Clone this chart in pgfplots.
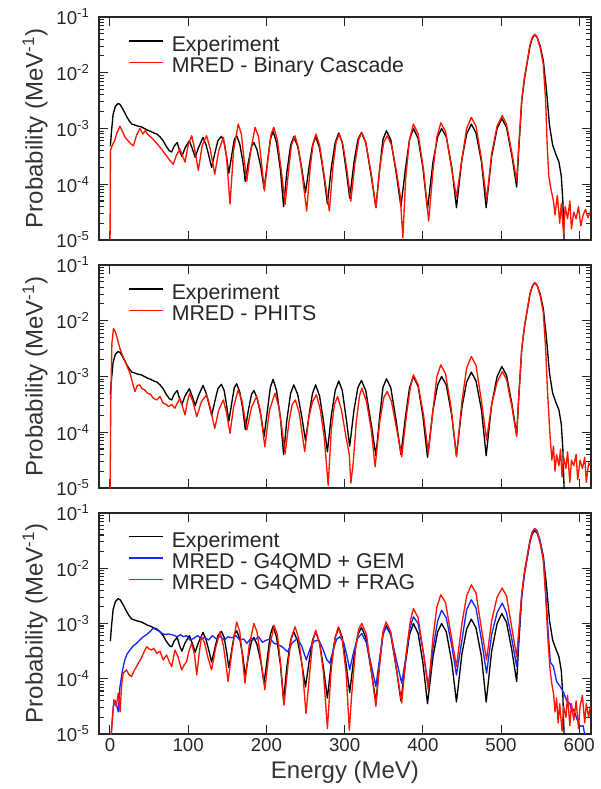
\documentclass[border=0pt]{standalone}
\usepackage{fontspec}
\setmainfont{Liberation Sans}
\usepackage{pgfplots}
\pgfplotsset{compat=1.18}
\usepackage{pgfplotstable}
\definecolor{myred}{RGB}{255,20,0}
\definecolor{myblue}{RGB}{20,40,255}

\pgfplotstableread{
E P
0.5 4.79e-4
2 8.91e-4
4 1.78e-3
7 2.51e-3
10.5 2.82e-3
13 2.69e-3
16 2.29e-3
19 1.91e-3
22 1.58e-3
25 1.35e-3
28 1.20e-3
32 1.15e-3
36 1.10e-3
40 1.07e-3
44 1.00e-3
48 9.33e-4
52 8.91e-4
56 8.32e-4
60 7.94e-4
64 7.08e-4
68 6.03e-4
72 4.79e-4
76 3.98e-4
79 3.80e-4
82 4.79e-4
86 5.62e-4
89 3.98e-4
92 3.16e-4
96 4.47e-4
101.5 6.03e-4
105 4.47e-4
109 3.02e-4
113 4.47e-4
119 6.92e-4
123 5.01e-4
127 3.02e-4
130 2.00e-4
134 3.55e-4
138 6.03e-4
142.5 7.24e-4
146 5.62e-4
149 3.16e-4
152 1.58e-4
156 3.55e-4
159 6.31e-4
162 7.41e-4
166 5.25e-4
170 2.51e-4
173 1.12e-4
177 2.51e-4
181 4.79e-4
184 5.62e-4
188 4.17e-4
193 2.00e-4
197 8.32e-5
201 2.24e-4
205 6.31e-4
208.5 8.91e-4
213 5.62e-4
218 1.78e-4
222 3.98e-5
226 1.58e-4
231 5.01e-4
235 7.08e-4
240 4.79e-4
245 2.00e-4
250 7.08e-5
255 2.24e-4
259 5.01e-4
263 7.08e-4
268 4.47e-4
273 1.58e-4
278 4.47e-5
283 2.00e-4
288 5.62e-4
292.5 8.32e-4
297 5.62e-4
302 1.78e-4
306.5 5.62e-5
312 2.51e-4
317 6.31e-4
321.5 8.51e-4
327 5.62e-4
334 1.41e-4
340 3.80e-5
345 2.00e-4
349 6.31e-4
353.5 9.12e-4
359 6.31e-4
366 1.58e-4
372 3.98e-5
378 2.00e-4
383 6.31e-4
388 1.00e-3
394 6.61e-4
400 2.00e-4
406 3.55e-5
413 2.51e-4
419 7.08e-4
424 1.00e-3
430 7.08e-4
437 2.00e-4
443 3.80e-5
450 2.82e-4
456 7.94e-4
462 1.20e-3
468 8.32e-4
475 2.51e-4
481 3.80e-5
488 3.16e-4
495 1.00e-3
501 1.51e-3
507 1.05e-3
514 3.16e-4
520 8.91e-5
522.5 3.98e-4
526.5 3.16e-3
530 7.94e-3
533 1.41e-2
537 3.02e-2
540 4.17e-2
543 4.79e-2
546 4.37e-2
550 3.02e-2
554 1.66e-2
558 5.01e-3
562 1.12e-3
566 5.01e-4
570 3.47e-4
574 2.51e-4
577 1.41e-4
579 5.01e-5
581 6.31e-6
}\expdata

\pgfplotstableread{
E P
0 3.16e-6
0.6 3.98e-4
3 5.01e-4
6 6.03e-4
9 8.32e-4
12.8 1.10e-3
16 8.91e-4
19 7.08e-4
23 6.03e-4
27 5.25e-4
30 4.90e-4
34 7.59e-4
38.4 1.00e-3
42 7.94e-4
45 9.12e-4
48 7.94e-4
51 7.24e-4
55 6.46e-4
60 5.37e-4
66 4.27e-4
70 3.55e-4
73 3.16e-4
77 2.63e-4
81 2.29e-4
85 3.31e-4
89.5 4.27e-4
93 3.16e-4
96 2.51e-4
100 5.01e-4
104.5 7.41e-4
108 4.47e-4
113 1.78e-4
118 5.01e-4
123.5 7.41e-4
128 4.47e-4
134 1.51e-4
139 3.98e-4
145 6.92e-4
149 3.16e-4
153.5 4.37e-5
158 3.98e-4
164 1.20e-3
168 7.94e-4
171 3.16e-4
175 1.15e-4
180 3.98e-4
185.5 1.05e-3
190 7.08e-4
194 2.24e-4
197.5 7.59e-5
202 2.82e-4
206 7.94e-4
209.5 1.05e-3
214 6.31e-4
219 1.78e-4
224 4.37e-5
228 1.58e-4
232 5.01e-4
236.5 7.41e-4
241 4.47e-4
246 1.41e-4
251.5 3.31e-5
256 2.00e-4
260 5.62e-4
263.5 7.94e-4
268 5.01e-4
274 1.41e-4
280.5 3.31e-5
285 2.00e-4
289 5.62e-4
293 7.94e-4
298 5.01e-4
303 1.78e-4
308 5.01e-5
313 2.24e-4
318 6.31e-4
322 8.51e-4
327 5.62e-4
334 1.58e-4
340 3.80e-5
345 2.00e-4
350 5.62e-4
354.5 7.41e-4
360 5.01e-4
366 1.78e-4
371 6.31e-5
374.5 1.10e-5
378 1.26e-4
383 6.31e-4
388 1.20e-3
394 7.94e-4
401 1.78e-4
407.5 2.19e-5
413 1.78e-4
418 7.08e-4
423 1.26e-3
429 8.91e-4
436 2.24e-4
443 5.89e-5
450 2.82e-4
456 1.00e-3
462 1.58e-3
468 1.10e-3
475 2.82e-4
481.5 5.13e-5
488 3.55e-4
495 1.12e-3
501.5 1.70e-3
507 1.20e-3
514 3.55e-4
520 1.15e-4
522.5 4.47e-4
526.5 3.31e-3
530 8.32e-3
533 1.45e-2
537 3.16e-2
540 4.37e-2
543 4.90e-2
546 4.37e-2
550 2.82e-2
554 1.41e-2
557 3.16e-3
559 5.01e-4
561 1.41e-4
564 7.94e-5
567 5.01e-5
569 2.82e-5
572 6.31e-5
575 2.00e-5
577 4.47e-5
580 1.26e-5
582 3.98e-5
585 2.40e-5
588 5.01e-5
590 1.58e-5
593 3.16e-5
596 2.40e-5
599 3.98e-5
602 1.78e-5
605 2.82e-5
608 3.55e-5
611 2.51e-5
614 3.16e-5
}\redA

\pgfplotstableread{
E P
0 3.16e-6
1 3.16e-4
2.5 3.98e-3
4.5 7.24e-3
7 6.31e-3
10 4.47e-3
12.8 3.16e-3
16 2.40e-3
19 1.91e-3
22 1.51e-3
25.6 1.15e-3
29 7.59e-4
32 5.37e-4
35 6.92e-4
38 7.08e-4
41 6.03e-4
44.6 5.75e-4
48 5.01e-4
52 4.79e-4
55.4 4.07e-4
60 3.80e-4
64 4.37e-4
68 3.31e-4
72 3.16e-4
75 2.88e-4
79 3.16e-4
83 2.69e-4
86 3.31e-4
89.5 4.07e-4
93 2.82e-4
96 2.04e-4
99 3.55e-4
102 5.01e-4
106 3.55e-4
111 1.91e-4
117 3.55e-4
123.5 4.68e-4
128 2.82e-4
134 1.17e-4
139 2.51e-4
145 3.80e-4
149 2.24e-4
153.5 9.55e-5
158 2.82e-4
164 5.75e-4
169 3.55e-4
175 1.10e-4
181 2.82e-4
187.5 4.37e-4
192 2.51e-4
198 5.50e-5
204 2.51e-4
211 5.01e-4
216 2.82e-4
220 1.12e-4
224 4.17e-5
229 1.58e-4
233 3.16e-4
237 3.80e-4
242 2.24e-4
249 4.47e-5
254 1.78e-4
259 3.55e-4
264 4.68e-4
269 2.51e-4
274 7.94e-5
279 1.12e-5
283 1.12e-4
287 3.16e-4
291 4.37e-4
296 2.51e-4
302 7.94e-5
306 3.98e-5
308 1.23e-5
311 2.82e-5
315 1.58e-4
319 4.47e-4
322 6.17e-4
328 3.55e-4
334 1.12e-4
339 2.40e-5
345 1.58e-4
350 4.17e-4
354.5 5.37e-4
360 3.55e-4
366 1.26e-4
373 3.63e-5
379 2.00e-4
384 6.31e-4
388 1.07e-3
394 7.08e-4
401 2.00e-4
407 4.17e-5
413 2.51e-4
418 1.00e-3
423 1.62e-3
429 1.12e-3
436 2.82e-4
443 3.63e-5
450 3.55e-4
456 1.41e-3
462 2.29e-3
468 1.58e-3
475 3.55e-4
481.5 7.24e-5
488 3.16e-4
495 7.94e-4
501.5 1.23e-3
507 8.91e-4
514 2.82e-4
520 8.32e-5
522.5 3.98e-4
526.5 3.16e-3
530 7.94e-3
533 1.41e-2
537 3.02e-2
540 4.17e-2
543 4.79e-2
546 4.37e-2
550 2.82e-2
554 1.41e-2
557 3.16e-3
559.5 5.01e-4
562.7 8.32e-5
565 3.16e-5
567 5.62e-5
569 2.00e-5
571 3.98e-5
574 2.51e-5
576 5.01e-5
578 1.58e-5
580 3.55e-5
583 2.24e-5
585 4.47e-5
588 1.26e-5
590 3.16e-5
593 2.51e-5
596 3.98e-5
598 1.41e-5
601 3.16e-5
604 2.24e-5
607 3.55e-5
609 1.26e-5
612 2.82e-5
614 2.51e-5
}\redB

\pgfplotstableread{
E P
0 5.01e-6
2 1.17e-5
4.3 3.16e-5
7 3.98e-5
10.7 2.51e-5
12.8 7.24e-5
16 1.41e-4
19 2.19e-4
22 2.82e-4
25.6 3.31e-4
30 3.98e-4
34 4.37e-4
38 5.01e-4
42.6 5.75e-4
47 6.31e-4
51 7.08e-4
55 8.13e-4
58 7.94e-4
62 7.41e-4
66 6.76e-4
70 6.31e-4
75 6.46e-4
81 6.17e-4
86 5.75e-4
90 6.31e-4
94 5.75e-4
98 6.03e-4
102 5.01e-4
107 5.37e-4
112 6.03e-4
117 5.25e-4
121 5.62e-4
126 5.01e-4
131 6.03e-4
136 5.25e-4
141 5.89e-4
146 5.01e-4
151 5.75e-4
156 5.50e-4
161 6.03e-4
166 5.01e-4
171 5.25e-4
175 4.37e-4
180 5.37e-4
185 5.01e-4
190 5.75e-4
195 4.57e-4
200 5.01e-4
205 5.25e-4
210 4.37e-4
215 4.17e-4
220 3.80e-4
227 3.09e-4
233 4.47e-4
239.5 5.37e-4
245 3.98e-4
251 2.19e-4
256 3.55e-4
261 4.79e-4
267 5.01e-4
272 3.55e-4
277 2.24e-4
281 1.91e-4
286 3.55e-4
290 5.25e-4
294 5.75e-4
299 4.47e-4
304 2.24e-4
306.5 1.45e-4
311 2.82e-4
316 5.25e-4
322 6.61e-4
328 4.47e-4
334 1.78e-4
340 7.24e-5
345 2.51e-4
349 6.31e-4
353 8.71e-4
359 6.31e-4
366 2.24e-4
373 8.32e-5
379 2.82e-4
384 8.91e-4
388 1.32e-3
394 1.00e-3
401 2.82e-4
407 7.24e-5
413 3.55e-4
419 1.12e-3
424 1.74e-3
430 1.26e-3
437 3.98e-4
443 1.17e-4
450 5.01e-4
456 1.78e-3
462 2.69e-3
468 1.91e-3
475 5.01e-4
481.5 1.26e-4
488 6.31e-4
495 1.58e-3
501.5 2.34e-3
507 1.58e-3
514 5.01e-4
520 1.66e-4
522.5 5.01e-4
526.5 3.31e-3
530 8.32e-3
533 1.45e-2
537 3.16e-2
540 4.57e-2
543 5.25e-2
546 4.79e-2
550 3.16e-2
554 1.58e-2
557 3.98e-3
560 7.94e-4
563 2.00e-4
567 1.66e-4
571 8.91e-5
575.6 7.24e-5
580 5.62e-5
584 3.98e-5
588 3.55e-5
591 2.51e-5
593 2.82e-5
597 1.86e-5
601 1.38e-5
605 1.41e-5
608 7.94e-6
}\blueC

\pgfplotstableread{
E P
0 5.01e-6
2 1.17e-5
5 4.17e-5
8 3.16e-5
10.7 5.50e-5
13 2.51e-5
15 7.94e-5
17 1.26e-4
21 1.45e-4
24 1.20e-4
27.6 1.10e-4
31 1.41e-4
34 1.66e-4
37 2.00e-4
40 2.34e-4
44 3.16e-4
47 3.80e-4
50 3.47e-4
53 3.31e-4
56 3.55e-4
60 2.88e-4
64 3.16e-4
68 2.19e-4
72.5 2.69e-4
76 2.00e-4
79 1.66e-4
83 3.31e-4
87 2.51e-4
91.6 1.45e-4
95 1.78e-4
98 2.04e-4
101 3.16e-4
104.4 4.37e-4
108 2.82e-4
111 1.17e-4
114 2.82e-4
117 5.75e-4
121 4.47e-4
125 2.51e-4
130 1.45e-4
135 3.55e-4
140.7 7.08e-4
145 3.98e-4
148 2.00e-4
151 8.91e-5
156 3.16e-4
162 1.07e-3
166 7.08e-4
169 2.82e-4
172.6 8.32e-5
178 3.98e-4
184 1.00e-3
188 7.08e-4
193 2.24e-4
198 6.31e-5
204 3.55e-4
209.7 9.33e-4
214 6.31e-4
218 2.00e-4
222.5 3.31e-5
228 2.00e-4
232 5.62e-4
236.6 8.71e-4
241 5.62e-4
246 1.58e-4
250.6 2.34e-5
256 1.58e-4
259 4.47e-4
263 7.59e-4
268 4.47e-4
273 1.26e-4
278 1.26e-5
283 1.58e-4
288 5.62e-4
292 8.71e-4
297 5.01e-4
302 1.26e-4
306 1.17e-5
309 5.01e-5
314 3.55e-4
318 7.94e-4
322 1.00e-3
328 6.31e-4
334 1.41e-4
340 3.16e-5
345 2.00e-4
349 7.08e-4
353 1.07e-3
359 7.08e-4
366 1.58e-4
373 3.63e-5
379 3.16e-4
384 1.12e-3
388 1.86e-3
394 1.26e-3
401 2.82e-4
407 6.31e-5
413 5.62e-4
418 2.00e-3
423 3.31e-3
429 2.40e-3
436 6.31e-4
443 1.66e-4
450 1.00e-3
456 3.16e-3
462 5.01e-3
468 3.55e-3
475 7.94e-4
481.5 2.19e-4
488 1.12e-3
495 3.02e-3
501.5 4.37e-3
507 3.16e-3
514 7.94e-4
520 2.51e-4
522.5 7.08e-4
526.5 3.55e-3
530 8.91e-3
533 1.51e-2
537 3.16e-2
540 4.57e-2
543 5.13e-2
546 4.57e-2
550 2.82e-2
554 1.41e-2
557 3.16e-3
560 5.01e-4
562.7 1.45e-4
565 7.94e-5
567 5.50e-5
569 2.51e-5
571 4.47e-5
573 1.58e-5
575 3.55e-5
578 1.12e-5
580 3.16e-5
583 2.00e-5
585 5.01e-5
588 1.41e-5
590 3.55e-5
593 1.78e-5
596 3.98e-5
599 1.26e-5
601 3.16e-5
604 5.01e-5
607 1.58e-5
609 3.55e-5
612 2.00e-5
614 3.16e-5
}\redC

\pgfplotsset{
  panel/.style={
    scale only axis, width=369pt, anchor=south west,
    xmin=-14, xmax=615, ymin=1e-5, ymax=1e-1,
    xtick={0,100,200,300,400,500,600},
    ytick={1e-5,1e-4,1e-3,1e-2,1e-1},
    minor ytick={2e-5,3e-5,4e-5,5e-5,6e-5,7e-5,8e-5,9e-5,
                 2e-4,3e-4,4e-4,5e-4,6e-4,7e-4,8e-4,9e-4,
                 2e-3,3e-3,4e-3,5e-3,6e-3,7e-3,8e-3,9e-3,
                 2e-2,3e-2,4e-2,5e-2,6e-2,7e-2,8e-2,9e-2},
    yticklabels={10\textsuperscript{-5},10\textsuperscript{-4},10\textsuperscript{-3},10\textsuperscript{-2},10\textsuperscript{-1}},
    tick label style={font=\fontsize{14}{16}\selectfont, text=black!85},
    yticklabel style={xshift=-3.6pt},
    axis line style={line width=1.1pt, black!85},
    every tick/.style={black!85, line width=0.8pt},
    major tick length=6.4pt, minor tick length=3.8pt,
    ylabel={Probability (MeV\textsuperscript{-1})},
    ylabel style={font=\fontsize{18}{20}\selectfont, text=black!80, at={(axis description cs:-0.13,0.5)}, anchor=center},
    legend style={draw=none, fill=none, inner sep=0pt, outer sep=0pt,
      at={(axis description cs:0.059,0.915)}, anchor=north west,
      font=\fontsize{16}{16}\selectfont, text=black!85,
      row sep=0.5pt,
      nodes={inner sep=0pt, text height=11.5pt, text depth=4pt},
      /tikz/every odd column/.append style={column sep=5.8pt}},
    legend cell align=left,
    legend image code/.code={\draw[#1] (0pt,4pt) -- (26pt,4pt);},
    every axis plot/.append style={line width=1pt, line join=round},
  }
}

\begin{document}
\begin{tikzpicture}
\useasboundingbox (0,0) rectangle (450pt,591.75pt);
\begin{semilogyaxis}[panel, at={(74.25pt,411.75pt)}, height=167.25pt, xticklabels={}]
\addplot[black] table {\expdata};
\addplot[myred] table {\redA};
\legend{Experiment, MRED - Binary Cascade}
\end{semilogyaxis}
\begin{semilogyaxis}[panel, at={(74.25pt,225.75pt)}, height=167.25pt, xticklabels={}]
\addplot[black] table {\expdata};
\addplot[myred] table {\redB};
\legend{Experiment, MRED - PHITS}
\end{semilogyaxis}
\begin{semilogyaxis}[panel, at={(74.25pt,41.25pt)}, height=165.75pt,
  xticklabels={0,100,200,300,400,500,600},
  xlabel={Energy (MeV)},
  xlabel style={font=\fontsize{18}{20}\selectfont, text=black!80, at={(axis description cs:0.5,-0.172)}, anchor=center}]
\addplot[black] table {\expdata};
\addplot[myblue] table {\blueC};
\addplot[myred] table {\redC};
\legend{Experiment, MRED - G4QMD + GEM, MRED - G4QMD + FRAG}
\end{semilogyaxis}
\end{tikzpicture}
\end{document}
